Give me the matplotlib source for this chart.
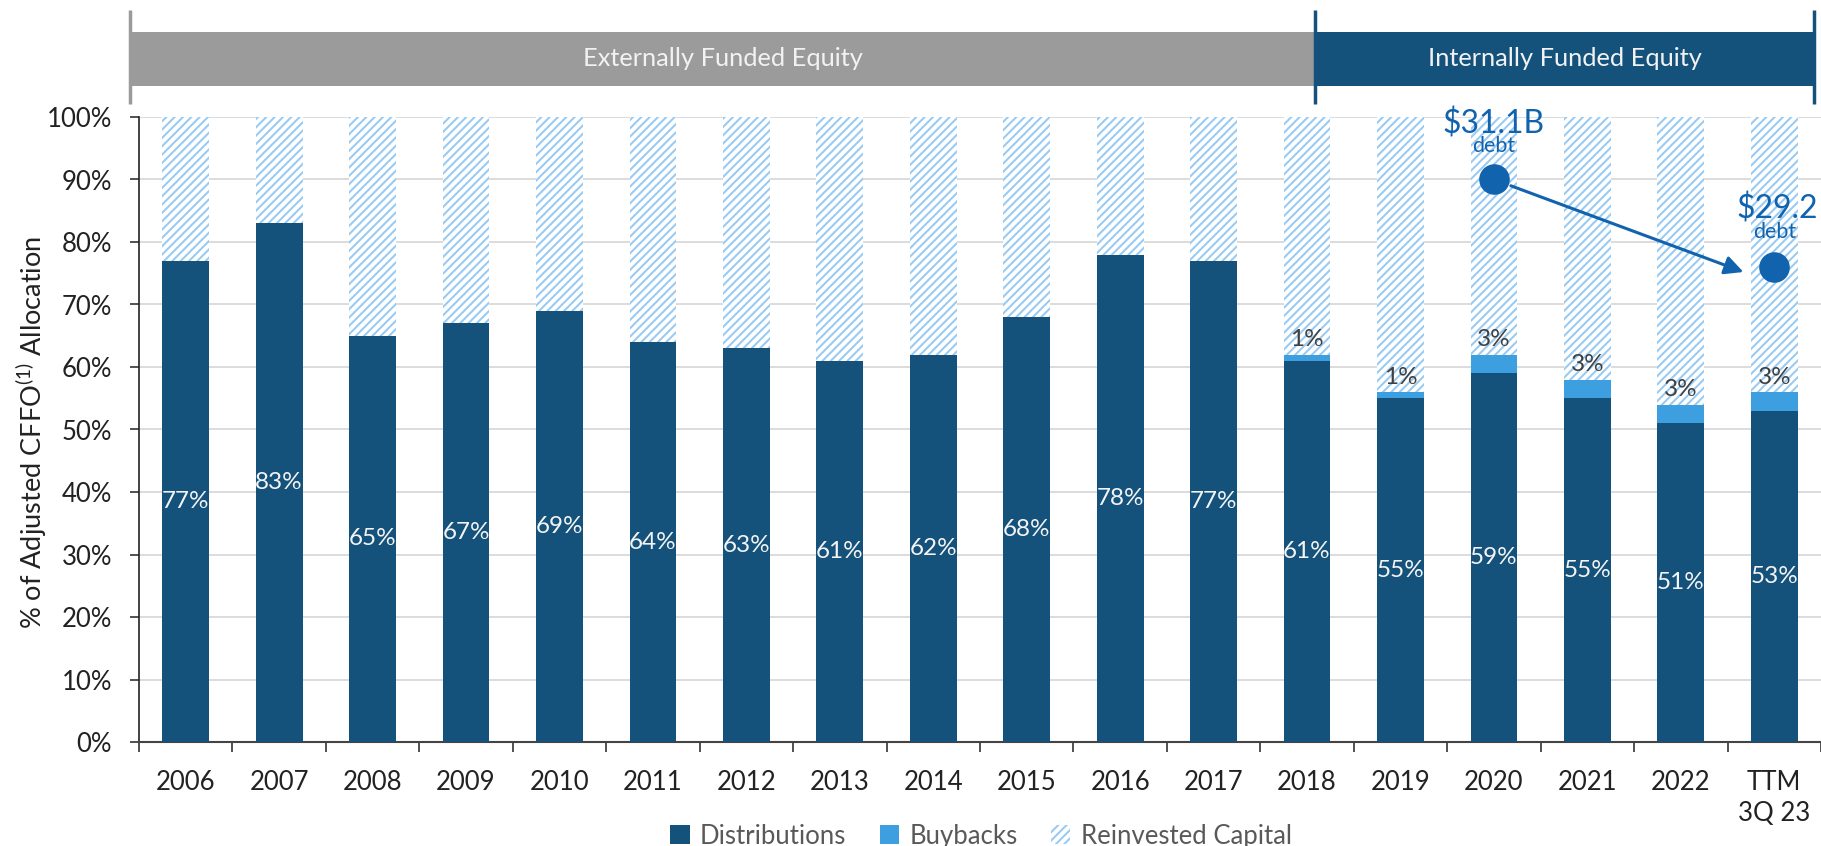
import matplotlib
matplotlib.use("Agg")
import matplotlib.pyplot as plt
from matplotlib.patches import Rectangle, Patch

# ---- data -------------------------------------------------------------
categories = ["2006", "2007", "2008", "2009", "2010", "2011", "2012", "2013",
              "2014", "2015", "2016", "2017", "2018", "2019", "2020", "2021",
              "2022", "TTM\n3Q 23"]
distributions = [77, 83, 65, 67, 69, 64, 63, 61, 62, 68, 78, 77, 61, 55, 59, 55, 51, 53]
buybacks = [0, 0, 0, 0, 0, 0, 0, 0, 0, 0, 0, 0, 1, 1, 3, 3, 3, 3]
reinvested = [23, 17, 35, 33, 31, 36, 37, 39, 38, 32, 22, 23, 38, 44, 38, 42, 46, 44]
debt_labels = ["$31.1B", "$29.2"]

# ---- style ------------------------------------------------------------
FONT = "Lato"
plt.rcParams["font.family"] = [FONT, "DejaVu Sans"]
plt.rcParams["mathtext.fontset"] = "custom"
plt.rcParams["mathtext.rm"] = FONT
plt.rcParams["hatch.linewidth"] = 1.45

DARK = "#14527C"
BUY = "#3E9FE0"
HATCH = "#98CAF3"
DEBT = "#1163AE"
GREY_BAND = "#9B9B9B"
TEXT = "#222222"

W, H = 1821, 846
fig = plt.figure(figsize=(W / 100, H / 100), dpi=100)
ax = fig.add_axes([139 / W, 1 - 742 / H, 1 - 139 / W, (742 - 117) / H])

x = list(range(len(categories)))
bw = 0.5
bottom_buy = [d for d in distributions]
bottom_re = [d + b for d, b in zip(distributions, buybacks)]

ax.bar(x, distributions, width=bw, color=DARK, linewidth=0, zorder=3)
ax.bar(x, buybacks, width=bw, bottom=bottom_buy, color=BUY, linewidth=0, zorder=3)
ax.bar(x, reinvested, width=bw, bottom=bottom_re, color="white",
       edgecolor=HATCH, hatch="////", linewidth=0, zorder=3)

# value labels
for xi, d, b in zip(x, distributions, buybacks):
    ax.text(xi, d / 2, f"{d}%", ha="center", va="center", color="#F4F4F4",
            fontsize=17.5, zorder=5)
    if b:
        ax.text(xi, d + b + 2.4, f"{b}%", ha="center", va="center",
                color="#404040", fontsize=17.5, zorder=5)

# axes formatting
ax.set_xlim(-0.5, len(categories) - 0.5)
ax.set_ylim(0, 100)
ax.set_yticks(range(0, 101, 10))
ax.set_yticklabels([f"{v}%" for v in range(0, 101, 10)])
ax.set_xticks(x)
ax.set_xticklabels(categories, linespacing=1.3)
ax.set_xticks([i - 0.5 for i in range(len(categories) + 1)], minor=True)
ax.tick_params(axis="x", which="major", length=0, pad=20, labelsize=18.5,
               labelcolor=TEXT)
ax.tick_params(axis="x", which="minor", length=7, width=1.2, color="#333333",
               direction="out")
ax.tick_params(axis="y", length=6.5, width=1.2, pad=13, labelsize=18.5,
               labelcolor=TEXT, color="#333333")
ax.grid(axis="y", color="#D9D9D9", linewidth=1.3, zorder=0)
ax.set_axisbelow(True)
for s in ("top", "right"):
    ax.spines[s].set_visible(False)
ax.spines["left"].set_color("#222222")
ax.spines["left"].set_linewidth(1.2)
ax.spines["bottom"].set_color("#444444")
ax.spines["bottom"].set_linewidth(1.5)

fig.text(32 / W, 1 - 432 / H, r"% of Adjusted CFFO$^{(1)}$ Allocation",
         rotation=90, ha="center", va="center", fontsize=19.5, color=TEXT)

# debt markers and arrow
i20 = categories.index("2020")
ittm = len(categories) - 1
ax.plot([i20, ittm], [90, 76], linestyle="none", marker="o", markersize=21,
        color=DEBT, zorder=6)
ax.annotate("", xy=(ittm - 0.33, 75.2), xytext=(i20, 90),
            arrowprops=dict(arrowstyle="-|>", color=DEBT, lw=2.2,
                            mutation_scale=28, shrinkA=13, shrinkB=0),
            zorder=6)
ax.text(i20, 98.9, debt_labels[0], ha="center", va="center", color=DEBT,
        fontsize=23, zorder=6)
ax.text(i20, 95.3, "debt", ha="center", va="center", color=DEBT,
        fontsize=15.5, zorder=6)
ax.text(ittm + 0.03, 85.3, debt_labels[1], ha="center", va="center", color=DEBT,
        fontsize=23, zorder=6, clip_on=False)
ax.text(ittm, 81.6, "debt", ha="center", va="center", color=DEBT,
        fontsize=15.5, zorder=6)

# funding bands across the top (pixel coordinates)
band = fig.add_axes([0, 0, 1, 1], zorder=-1)
band.set_xlim(0, W)
band.set_ylim(H, 0)
band.axis("off")
band.add_patch(Rectangle((130, 32), 1315 - 130, 54, color=GREY_BAND, lw=0))
band.add_patch(Rectangle((1315, 32), 1814 - 1315, 54, color="#14527C", lw=0))
band.plot([130, 130], [10, 104], color=GREY_BAND, lw=2.5, solid_capstyle="butt")
band.plot([1315, 1315], [10, 104], color="#14527C", lw=2.5, solid_capstyle="butt")
band.plot([1814, 1814], [10, 104], color="#14527C", lw=2.5, solid_capstyle="butt")
band.text((130 + 1315) / 2, 59, "Externally Funded Equity", ha="center",
          va="center", color="#F2F2F2", fontsize=18.3)
band.text((1315 + 1814) / 2, 59, "Internally Funded Equity", ha="center",
          va="center", color="#F2F2F2", fontsize=18.3)

# legend
handles = [
    Patch(facecolor=DARK, linewidth=0, label="Distributions"),
    Patch(facecolor=BUY, linewidth=0, label="Buybacks"),
    Patch(facecolor="white", edgecolor=HATCH, hatch="////", linewidth=0,
          label="Reinvested Capital"),
]
fig.legend(handles=handles, loc="center", bbox_to_anchor=(981 / W, 1 - 836 / H),
           ncol=3, frameon=False, fontsize=18.5, handlelength=0.75,
           handleheight=0.75, handletextpad=0.4, columnspacing=1.3,
           labelcolor="#595959")

fig.savefig("out.png", dpi=100)
